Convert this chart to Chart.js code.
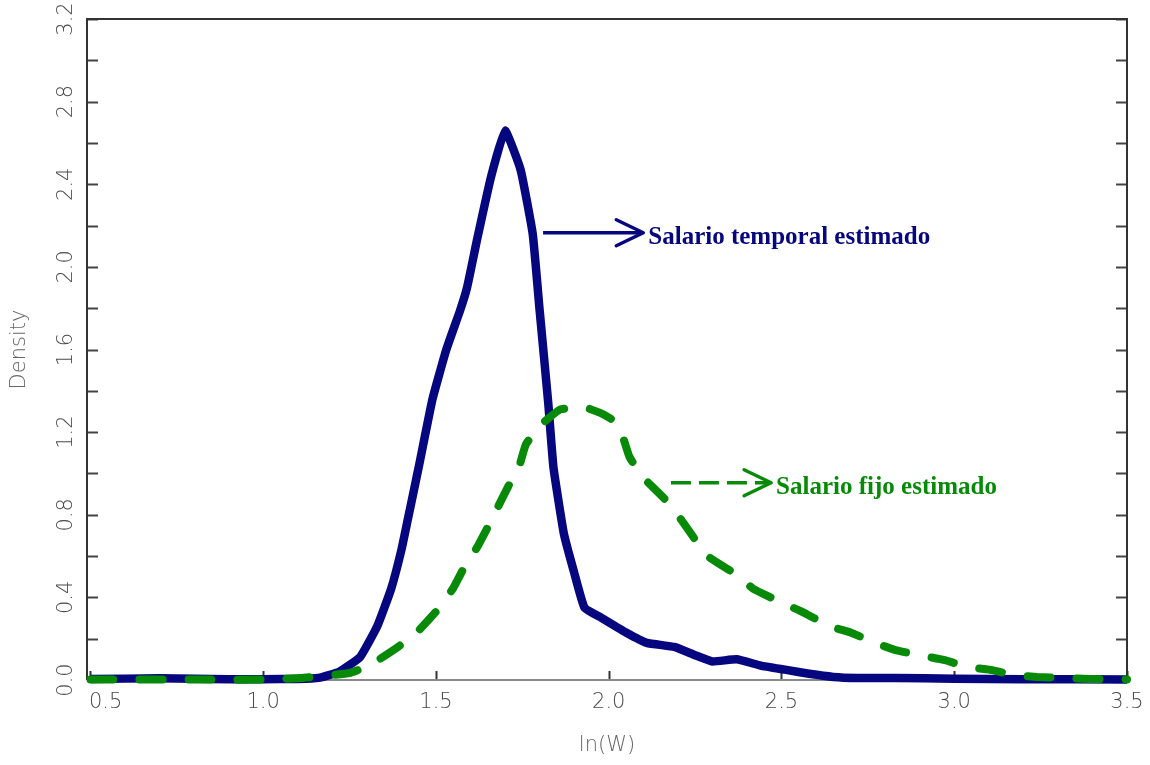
<!DOCTYPE html>
<html>
<head>
<meta charset="utf-8">
<title>Density ln(W)</title>
<script src="https://cdn.jsdelivr.net/npm/chart.js@4.4.1/dist/chart.umd.min.js"></script>
<style>
  html, body { margin: 0; padding: 0; background: #fff; }
  #wrap { width: 1150px; height: 765px; }
</style>
</head>
<body>
<div id="wrap"><canvas id="chart" width="1150" height="765"></canvas></div>
<script>
// ---------- data ----------
const temporalX = [0.5, 0.7, 0.9, 1.0, 1.1, 1.16, 1.22, 1.28, 1.33, 1.37, 1.40, 1.42, 1.45, 1.49, 1.53,
  1.57, 1.59, 1.62, 1.66, 1.70, 1.745, 1.78, 1.80, 1.825, 1.84, 1.87, 1.90, 1.93, 1.98, 2.05, 2.11,
  2.19, 2.25, 2.30, 2.37, 2.44, 2.51, 2.58, 2.65, 2.72, 2.83, 3.0, 3.2, 3.5];
const temporalY = [0.005, 0.008, 0.004, 0.004, 0.005, 0.01, 0.04, 0.11, 0.26, 0.44, 0.63, 0.79, 1.03, 1.36, 1.60,
  1.79, 1.90, 2.14, 2.44, 2.66, 2.47, 2.16, 1.79, 1.34, 1.03, 0.71, 0.52, 0.35, 0.30, 0.23, 0.18,
  0.16, 0.12, 0.09, 0.10, 0.07, 0.05, 0.03, 0.015, 0.01, 0.01, 0.006, 0.004, 0.003];

const fijoX = [0.5, 0.8, 1.0, 1.11, 1.25, 1.31, 1.39, 1.45, 1.51, 1.55, 1.58, 1.62, 1.65, 1.68, 1.71, 1.74,
  1.76, 1.80, 1.86, 1.93, 1.98, 2.01, 2.04, 2.06, 2.10, 2.16, 2.21, 2.25, 2.29, 2.36, 2.42, 2.50,
  2.56, 2.64, 2.70, 2.77, 2.83, 2.90, 2.97, 3.04, 3.11, 3.17, 3.24, 3.32, 3.39, 3.5];
const fijoY = [0.002, 0.002, 0.002, 0.01, 0.034, 0.073, 0.16, 0.24, 0.35, 0.445, 0.54, 0.645, 0.74, 0.84, 0.94, 1.03,
  1.14, 1.23, 1.31, 1.32, 1.29, 1.26, 1.18, 1.08, 0.98, 0.88, 0.775, 0.68, 0.595, 0.52, 0.44, 0.375,
  0.33, 0.26, 0.23, 0.18, 0.145, 0.12, 0.097, 0.063, 0.048, 0.024, 0.015, 0.01, 0.005, 0.003];

const xTickValues = [0.5, 1.0, 1.5, 2.0, 2.5, 3.0, 3.5];
const yTickValues = [0, 0.2, 0.4, 0.6, 0.8, 1.0, 1.2, 1.4, 1.6, 1.8, 2.0, 2.2, 2.4, 2.6, 2.8, 3.0, 3.2];
const yLabelValues = [0, 0.4, 0.8, 1.2, 1.6, 2.0, 2.4, 2.8, 3.2];

const xTitle = 'ln(W)';
const yTitle = 'Density';
const temporalLabel = 'Salario temporal estimado';
const fijoLabel = 'Salario fijo estimado';

const BLUE = '#06067f';
const GREEN = '#078a07';

// ---------- helpers ----------
function toPoints(xs, ys) {
  return xs.map((x, i) => ({ x, y: ys[i] }));
}

function seg(ctx, x1, y1, x2, y2) {
  ctx.beginPath();
  ctx.moveTo(x1, y1);
  ctx.lineTo(x2, y2);
  ctx.stroke();
}

// arrow + label, anchored in data units
function drawCallout(chart, fromX, toX, atY, text, color, dash) {
  const { ctx, scales: { x, y } } = chart;
  const x1 = x.getPixelForValue(fromX);
  const x2 = x.getPixelForValue(toX);
  const py = y.getPixelForValue(atY);
  ctx.save();
  ctx.strokeStyle = color;
  ctx.lineWidth = 3.5;
  ctx.setLineDash(dash);
  seg(ctx, x1, py, x2 - 2, py);
  ctx.setLineDash([]);
  ctx.lineCap = 'round';
  ctx.lineJoin = 'round';
  ctx.beginPath();
  ctx.moveTo(x2 - 27, py - 13);
  ctx.lineTo(x2, py);
  ctx.lineTo(x2 - 27, py + 13);
  ctx.stroke();
  ctx.fillStyle = color;
  ctx.font = 'bold 25px "Liberation Serif", "Times New Roman", serif';
  ctx.textBaseline = 'alphabetic';
  ctx.textAlign = 'left';
  ctx.fillText(text, x2 + 5, py + 11);
  ctx.restore();
}

// ---------- frame, ticks, labels ----------
const framePlugin = {
  id: 'framePlugin',
  beforeDatasetsDraw(chart) {
    const { ctx, chartArea: a, scales: { x, y } } = chart;
    ctx.save();
    ctx.lineWidth = 2;
    ctx.strokeStyle = '#444';
    yTickValues.forEach(v => {
      const py = Math.round(y.getPixelForValue(v)) + 0.5;
      seg(ctx, a.left, py, a.left + 11, py);
      seg(ctx, a.right, py, a.right - 11, py);
    });
    ctx.strokeStyle = '#333';
    xTickValues.forEach(v => {
      const px = Math.round(x.getPixelForValue(v)) + 0.5;
      seg(ctx, px, a.bottom, px, a.bottom - 9);
    });
    // box
    ctx.strokeStyle = '#333';
    seg(ctx, a.left, a.bottom, a.left, a.top);
    seg(ctx, a.left - 1, a.top, a.right + 1, a.top);
    seg(ctx, a.right, a.top, a.right, a.bottom);
    ctx.strokeStyle = '#8a8a8a';
    seg(ctx, a.left, a.bottom, a.right, a.bottom);
    ctx.restore();
  },
  afterDraw(chart) {
    const { ctx, chartArea: a, scales: { x, y } } = chart;
    ctx.save();
    ctx.fillStyle = '#4a4a4a';
    ctx.font = '200 21px "DejaVu Sans", sans-serif';
    ctx.textBaseline = 'middle';

    // x tick labels (first one starts at the axis)
    xTickValues.forEach((v, i) => {
      const px = x.getPixelForValue(v);
      ctx.textAlign = i === 0 ? 'left' : 'center';
      ctx.fillText(v.toFixed(1), i === 0 ? a.left + 2 : px, a.bottom + 23);
    });

    // y tick labels, rotated
    yLabelValues.forEach(v => {
      const py = y.getPixelForValue(v);
      ctx.save();
      ctx.translate(a.left - 20, py);
      ctx.rotate(-Math.PI / 2);
      ctx.textAlign = 'center';
      ctx.fillText(v.toFixed(1), 0, 0);
      ctx.restore();
    });

    // axis titles
    ctx.fillStyle = '#666';
    ctx.textAlign = 'center';
    ctx.fillText(xTitle, (a.left + a.right) / 2, a.bottom + 66);
    ctx.save();
    ctx.translate(20, (a.top + a.bottom) / 2);
    ctx.rotate(-Math.PI / 2);
    ctx.fillText(yTitle, 0, 0);
    ctx.restore();
    ctx.restore();

    // callouts
    drawCallout(chart, 1.81, 2.10, 2.165, temporalLabel, BLUE, []);
    drawCallout(chart, 2.18, 2.47, 0.955, fijoLabel, GREEN, [20, 8]);
  }
};

// ---------- chart ----------
const ctx = document.getElementById('chart');

new Chart(ctx, {
  type: 'line',
  data: {
    datasets: [
      {
        label: temporalLabel,
        data: toPoints(temporalX, temporalY),
        borderColor: BLUE,
        borderWidth: 8.5,
        pointRadius: 0,
        tension: 0.12,
        fill: false,
        clip: false,
        order: 2,
      },
      {
        label: fijoLabel,
        data: toPoints(fijoX, fijoY),
        borderColor: GREEN,
        borderWidth: 8,
        borderDash: [23, 26],
        borderCapStyle: 'round',
        pointRadius: 0,
        tension: 0.12,
        fill: false,
        clip: false,
        order: 1,
      },
    ],
  },
  options: {
    responsive: false,
    animation: false,
    devicePixelRatio: 1,
    layout: { padding: { left: 87, right: 23, top: 19, bottom: 85 } },
    plugins: {
      legend: { display: false },
      tooltip: { enabled: false },
    },
    scales: {
      x: { type: 'linear', min: 0.49, max: 3.5, display: false },
      y: { type: 'linear', min: 0, max: 3.2, display: false },
    },
  },
  plugins: [framePlugin],
});
</script>
</body>
</html>
